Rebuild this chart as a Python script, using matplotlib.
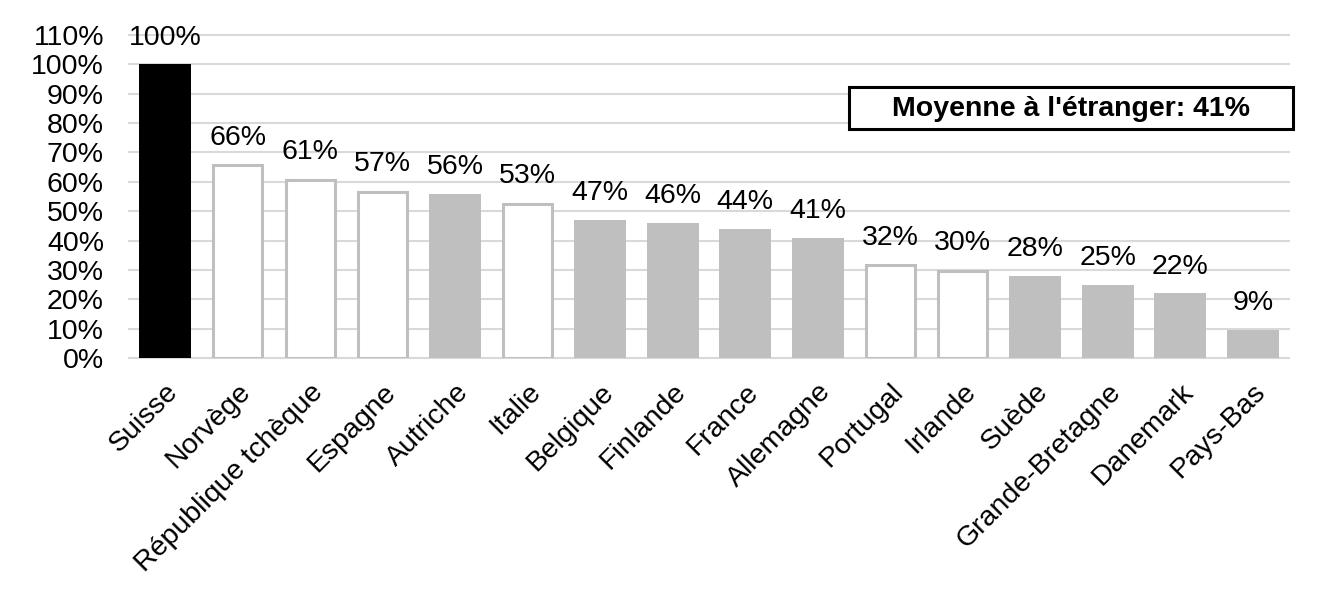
import matplotlib.pyplot as plt
from matplotlib.patches import Rectangle
import numpy as np

plt.rcParams['font.family'] = ['Liberation Sans', 'DejaVu Sans']

countries = ['Suisse', 'Norvège', 'République tchèque', 'Espagne', 'Autriche', 'Italie',
             'Belgique', 'Finlande', 'France', 'Allemagne', 'Portugal', 'Irlande',
             'Suède', 'Grande-Bretagne', 'Danemark', 'Pays-Bas']
values = [100, 66, 61, 57, 56, 53, 47, 46, 44, 41, 32, 30, 28, 25, 22, 9.7]
value_labels = ['100%', '66%', '61%', '57%', '56%', '53%', '47%', '46%', '44%', '41%',
                '32%', '30%', '28%', '25%', '22%', '9%']
# 'ch' = Suisse, 'open' = white bars, 'grey' = filled grey bars
kinds = ['ch', 'open', 'open', 'open', 'grey', 'open', 'grey', 'grey', 'grey', 'grey',
         'open', 'open', 'grey', 'grey', 'grey', 'grey']
yticks = list(range(0, 111, 10))
avg_text = "Moyenne à l'étranger: 41%"

fs = 20.5
fig = plt.figure(figsize=(13.23, 5.92), dpi=100)
ax = fig.add_axes([0.0975, 0.3953, 0.8768, 0.5456])

x = np.arange(len(countries))
grey = '#bfbfbf'
for xi, v, k in zip(x, values, kinds):
    if k == 'ch':
        ax.bar(xi, v, width=0.72, color='black', zorder=3)
    elif k == 'open':
        ax.bar(xi, v - 0.4, width=0.68, color='white', edgecolor=grey, linewidth=2.2, zorder=3)
    else:
        ax.bar(xi, v, width=0.72, color=grey, zorder=3)

for xi, v, lab in zip(x, values, value_labels):
    ax.text(xi, v + 4.6, lab, ha='center', va='bottom', fontsize=fs)

ax.set_xlim(-0.5, len(countries) - 0.5)
ax.set_ylim(0, 110)
ax.set_yticks(yticks)
ax.set_yticklabels([f'{t}%' for t in yticks], fontsize=fs)
ax.set_xticks(x)
ax.set_xticklabels(countries, rotation=45, ha='right', va='top', rotation_mode='anchor', fontsize=fs)
ax.tick_params(axis='both', length=0)
ax.tick_params(axis='y', pad=18)
ax.tick_params(axis='x', pad=15)
for s in ax.spines.values():
    s.set_visible(False)
for t in yticks:
    ax.axhline(t, color='#d9d9d9', linewidth=1.5, zorder=1, clip_on=False)

ax.add_patch(Rectangle((0.6207, 0.709), 0.3827, 0.130, transform=ax.transAxes,
                       facecolor='white', edgecolor='black', linewidth=2.2, zorder=4, clip_on=False))
ax.text(0.812, 0.772, avg_text, transform=ax.transAxes, ha='center', va='center',
        fontsize=fs, fontweight='bold', zorder=5)

fig.savefig('out.png', dpi=100)
